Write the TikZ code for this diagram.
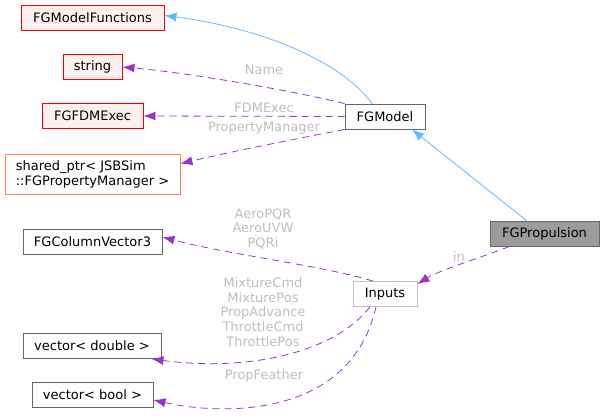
\documentclass[tikz,border=0pt]{standalone}
\usepackage{fontspec}
\setmainfont{DejaVu Sans}
\usetikzlibrary{arrows.meta, positioning}
\definecolor{edgeblue}{RGB}{99,184,255}
\definecolor{memberpurple}{RGB}{154,50,205}
\definecolor{labelgray}{RGB}{190,190,190}
\definecolor{boxgray}{RGB}{102,102,102}
\definecolor{redline}{RGB}{255,0,0}
\definecolor{redfill}{RGB}{255,240,240}
\definecolor{orangeline}{RGB}{255,127,80}
\definecolor{lightline}{RGB}{191,191,191}

\tikzset{
  classbox/.style={rectangle, draw=boxgray, fill=white, line width=0.9pt, minimum height=25, inner xsep=5, font=\fontsize{13}{15}\selectfont, text=black},
  redbox/.style={classbox, draw=redline, fill=redfill},
  orangebox/.style={classbox, draw=orangeline, align=left},
  inherit/.style={draw=edgeblue, line width=0.8pt, -{Latex[length=12,width=9]}},
  member/.style={draw=memberpurple, line width=0.8pt, dash pattern=on 7pt off 5pt, -{Latex[length=12,width=9]}},
  edgelabel/.style={text=labelgray, align=center, inner sep=0, font=\fontsize{13}{14.8}\selectfont}
}

\begin{document}
\begin{tikzpicture}[x=1pt, y=-1pt]
\useasboundingbox (0,0) rectangle (604,415);

% Classes on the left
\node[redbox, minimum width=143] (modelfunctions) at (92.5,17.5) {FGModelFunctions};
\node[redbox, minimum width=59] (string) at (92.5,67) {string};
\node[redbox, minimum width=101] (fdmexec) at (92.5,116) {FGFDMExec};
\node[orangebox, minimum width=175, minimum height=40] (propmanager) at (92.5,174) {shared\_ptr< JSBSim\\::FGPropertyManager >};
\node[classbox, minimum width=139] (colvector) at (92.5,242) {FGColumnVector3};
\node[classbox, minimum width=138] (vecdouble) at (92,346) {vector< double >};
\node[classbox, minimum width=121] (vecbool) at (92.5,395) {vector< bool >};

% Middle and right
\node[classbox, minimum width=80] (model) at (385,116.5) {FGModel};
\node[classbox, draw=lightline, minimum width=64] (inputs) at (385,294) {Inputs};
\node[classbox, fill=boxgray!65, draw=boxgray, minimum width=109] (propulsion) at (544.5,233.5) {FGPropulsion};

% Inheritance
\draw[inherit] ([xshift=-13]model.north) .. controls (340,60) and (260,28) .. ([yshift=2]modelfunctions.east);
\draw[inherit] ([xshift=-18]propulsion.north) -- ([xshift=27]model.south);

% Members
\draw[member] (model.north west) .. controls (280,88) and (180,72) .. (string.east);
\draw[member] (model.west) -- (fdmexec.east);
\draw[member] (model.south west) .. controls (290,140) and (230,152) .. ([yshift=-10]propmanager.north east);
\draw[member] ([xshift=-35]propulsion.south) .. controls (480,258) and (440,270) .. ([yshift=10]inputs.east);
\draw[member] ([xshift=-12]inputs.north) .. controls (320,265) and (230,255) .. ([yshift=5]colvector.east);
\draw[member] ([xshift=-15]inputs.south) .. controls (335,352) and (250,372) .. ([xshift=-10]vecdouble.south east);
\draw[member] ([xshift=-9]inputs.south) .. controls (350,420) and (220,415) .. ([yshift=-5]vecbool.east);

% Edge labels
\node[edgelabel] (namelabel) at (264,70) {Name};
\node[edgelabel] (fdmlabel) at (264,108) {FDMExec};
\node[edgelabel] (pmlabel) at (264,128) {PropertyManager};
\node[edgelabel] (inlabel) at (459,257) {in};
\node[edgelabel] (vec3label) at (263,229) {AeroPQR\\AeroUVW\\PQRi};
\node[edgelabel] (doublelabel) at (263,312) {MixtureCmd\\MixturePos\\PropAdvance\\ThrottleCmd\\ThrottlePos};
\node[edgelabel] (featherlabel) at (264,376) {PropFeather};
\end{tikzpicture}
\end{document}
